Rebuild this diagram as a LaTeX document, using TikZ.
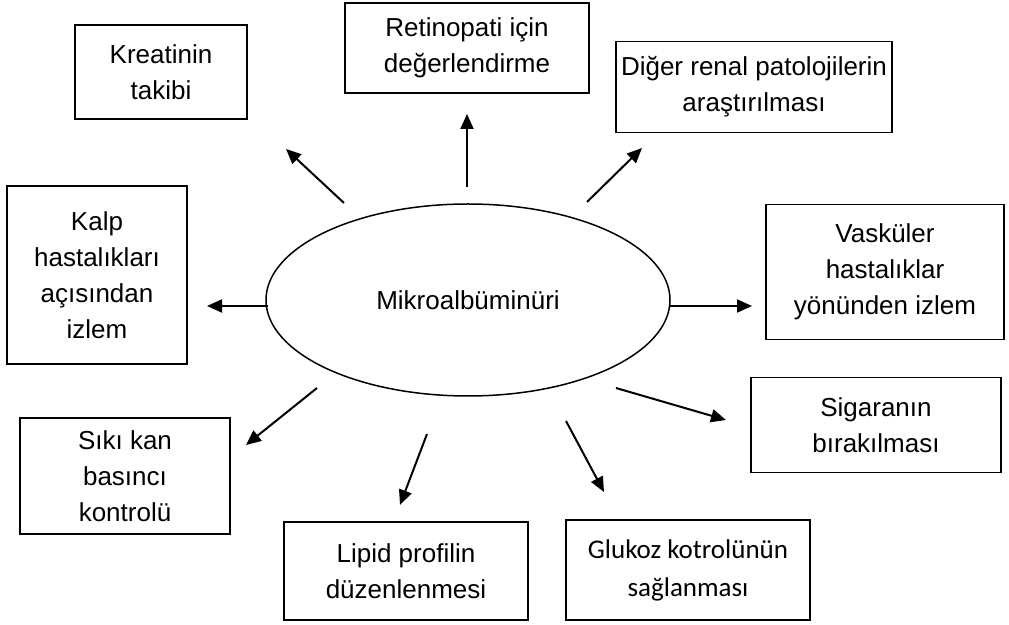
\documentclass[tikz,border=0pt]{standalone}
\usepackage{fontspec}
\setmainfont{Liberation Sans}
\newfontfamily\calibrifont{Carlito}
\usepackage{tikz}
\usetikzlibrary{arrows.meta,shapes.geometric}

\begin{document}
\begin{tikzpicture}[x=0.5pt,y=-0.5pt,
  box/.style={draw,line width=0.9pt,align=center,inner sep=0pt,
    font=\fontsize{13}{18}\selectfont},
  arr/.style={line width=1pt,-{Triangle[length=7.5pt,width=6.5pt]}}]
\useasboundingbox (0,0) rectangle (1009,625);
% centre
\node[draw,ellipse,line width=0.75pt,minimum width=202pt,minimum height=96pt,
  font=\fontsize{13}{18}\selectfont] (mikro) at (468,300) {Mikroalbüminüri};
% boxes
\node[box,minimum width=86pt,minimum height=47pt] (kreat) at (161,72) {Kreatinin\\takibi};
\node[box,minimum width=122pt,minimum height=45pt] (retino) at (467,48) {Retinopati için\\değerlendirme};
\node[box,minimum width=138pt,minimum height=45.5pt] (diger) at (754,87) {Diğer renal patolojilerin\\araştırılması};
\node[box,minimum width=90pt,minimum height=89pt] (kalp) at (97,275) {Kalp\\hastalıkları\\açısından\\izlem};
\node[box,minimum width=119pt,minimum height=67.5pt] (vask) at (885,272) {Vasküler\\hastalıklar\\yönünden izlem};
\node[box,minimum width=125pt,minimum height=47.5pt] (sigara) at (876,425) {Sigaranın\\bırakılması};
\node[box,minimum width=105pt,minimum height=58pt] (siki) at (125,476) {Sıkı kan\\basıncı\\kontrolü};
\node[box,minimum width=122pt,minimum height=49pt] (lipid) at (406,571) {Lipid profilin\\düzenlenmesi};
\node[box,minimum width=122pt,minimum height=50pt,
  font=\calibrifont\fontsize{13.5}{19}\selectfont] (glukoz) at (688,570) {Glukoz kotrolünün\\sağlanması};
% arrow ends
\coordinate (s1) at (344,203); \coordinate (e1) at (286,149);
\coordinate (s2) at (467,187); \coordinate (e2) at (467,114);
\coordinate (s3) at (587,202); \coordinate (e3) at (642,148);
\coordinate (s4) at (268,306); \coordinate (e4) at (207,306);
\coordinate (s5) at (670,306); \coordinate (e5) at (752,306);
\coordinate (s6) at (616,388); \coordinate (e6) at (726,420);
\coordinate (s7) at (317,388); \coordinate (e7) at (246,445);
\coordinate (s8) at (427,434); \coordinate (e8) at (400,505);
\coordinate (s9) at (566,421); \coordinate (e9) at (604,492);
\foreach \i in {1,...,9}
  \draw[arr] (s\i) -- (e\i);
\end{tikzpicture}
\end{document}
